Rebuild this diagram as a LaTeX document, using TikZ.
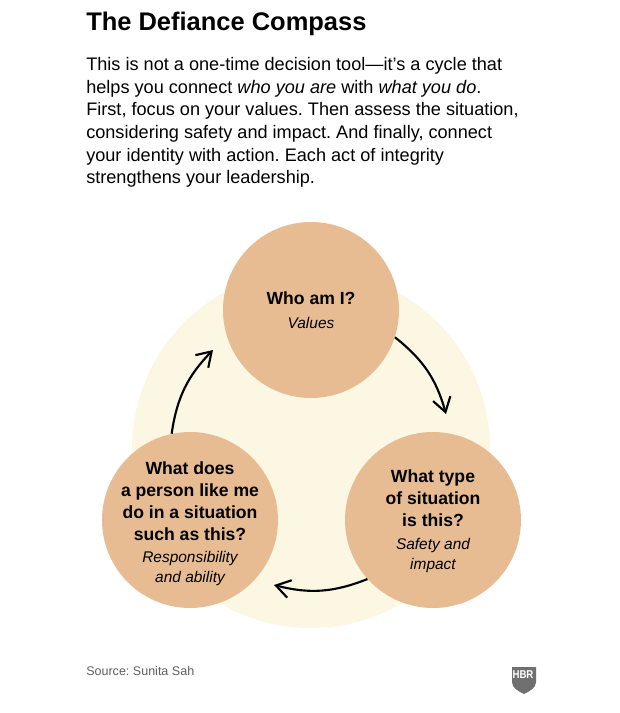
\documentclass[tikz,border=0pt]{standalone}
\usepackage{fontspec}
\setmainfont{Liberation Sans}
\usetikzlibrary{arrows.meta,positioning,calc}
\definecolor{hbrtan}{RGB}{232,188,147}
\definecolor{hbrcream}{RGB}{252,247,226}
\definecolor{hbrgrey}{RGB}{112,112,112}
\frenchspacing

\begin{document}
\begin{tikzpicture}[x=0.75pt, y=-0.75pt,
  stage/.style={circle, fill=hbrtan, minimum size=132pt, inner sep=0pt, align=center},
  head/.style={font=\fontsize{13.2pt}{16.6pt}\selectfont\bfseries, align=center, inner sep=0pt},
  sub/.style={font=\fontsize{11.6pt}{15pt}\selectfont\itshape, align=center, inner sep=0pt},
  arrow/.style={-{Straight Barb[length=10.5pt,width=13.5pt]}, line width=1.6pt, black}
]
\useasboundingbox (0,0) rectangle (619,713);
\fill[white] (0,0) rectangle (619,713);

\node[anchor=west, inner sep=0pt, font=\fontsize{19.1pt}{24pt}\selectfont\bfseries] (title) at (86,24) {The Defiance Compass};
\node[anchor=north west, inner sep=0pt, align=left, font=\fontsize{13.6pt}{17pt}\selectfont] (intro) at (86,57) {%
  This is not a one-time decision tool—it’s a cycle that\\
  helps you connect \emph{who you are} with \emph{what you do}.\\
  First, focus on your values. Then assess the situation,\\
  considering safety and impact. And finally, connect\\
  your identity with action. Each act of integrity\\
  strengthens your leadership.};

\node[circle, fill=hbrcream, minimum size=268.5pt, inner sep=0pt] (back) at (311,449) {};
\node[stage] (who) at (311,310) {};
\node[stage] (type) at (433,520) {};
\node[stage] (person) at (190,520) {};

\node[head] (whoT) at (311,298) {Who am I?};
\node[sub] (whoS) at (311,323) {Values};
\node[head] (typeT) at (433,498) {What type\\of situation\\is this?};
\node[sub] (typeS) at (433,555) {Safety and\\impact};
\node[head] (personT) at (190,501) {What does\\a person like me\\do in a situation\\such as this?};
\node[sub] (personS) at (190,568) {Responsibility\\and ability};

\coordinate (endA) at (446,414);
\coordinate (endB) at (274,585);
\coordinate (endC) at (213,350);
\draw[arrow] (who.-18) to[bend left=18] (endA);
\draw[arrow] (type.222) to[bend left=18] (endB);
\draw[arrow] (person.102) to[bend left=18] (endC);

\node[anchor=west, inner sep=0pt, text=hbrgrey!85!black, font=\fontsize{9.4pt}{12pt}\selectfont] (source) at (86,671) {Source: Sunita Sah};

\fill[hbrgrey] (512,667) -- (536,667) -- (536,682) .. controls (536,688) and (530,691) .. (524,694) .. controls (518,691) and (512,688) .. (512,682) -- cycle;
\node[text=white, inner sep=0pt, font=\fontsize{8.5pt}{9pt}\selectfont\bfseries, xscale=0.85, transform shape] (logo) at (523,674.5) {HBR};
\end{tikzpicture}
\end{document}
